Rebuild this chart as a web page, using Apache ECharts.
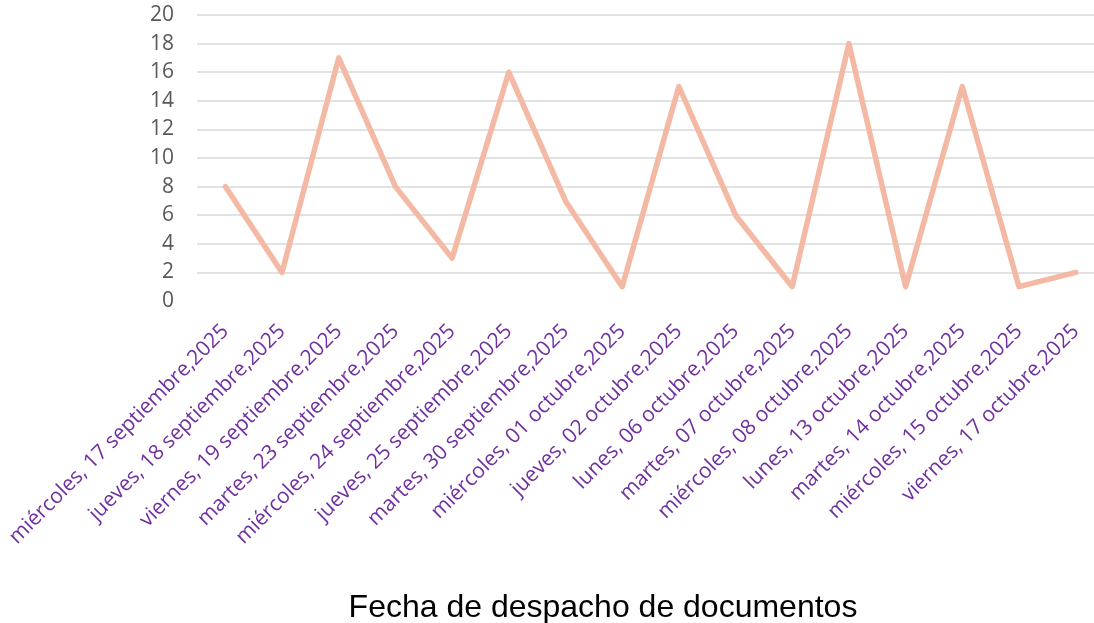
<!DOCTYPE html>
<html>
<head>
<meta charset="utf-8">
<script src="https://cdn.jsdelivr.net/npm/echarts@6/dist/echarts.min.js"></script>
<style>
    html, body { margin: 0; padding: 0; background: #ffffff; }
    #chart { width: 1094px; height: 623px; }
</style>
</head>
<body>
<div id="chart"></div>
<script>
// fechas de despacho
var categories = [
    "miércoles, 17 septiembre,2025",
    "jueves, 18 septiembre,2025",
    "viernes, 19 septiembre,2025",
    "martes, 23 septiembre,2025",
    "miércoles, 24 septiembre,2025",
    "jueves, 25 septiembre,2025",
    "martes, 30 septiembre,2025",
    "miércoles, 01 octubre,2025",
    "jueves, 02 octubre,2025",
    "lunes, 06 octubre,2025",
    "martes, 07 octubre,2025",
    "miércoles, 08 octubre,2025",
    "lunes, 13 octubre,2025",
    "martes, 14 octubre,2025",
    "miércoles, 15 octubre,2025",
    "viernes, 17 octubre,2025"
];
// documentos despachados por día
var documentos = [8, 2, 17, 8, 3, 16, 7, 1, 15, 6, 1, 18, 1, 15, 1, 2];
var yMin = 0;
var yMax = 20;
var yStep = 2;
var axisTitle = "Fecha de despacho de documentos";

var myChart = echarts.init(document.getElementById("chart"));

// la primera línea (0) no se dibuja
var gridColors = [];
for (var i = 0; i <= (yMax - yMin) / yStep; i++) {
    gridColors.push(i === 0 ? "rgba(0,0,0,0)" : "#d9d9d9");
}

var option = {
    animation: false,
    backgroundColor: "#ffffff",
    title: {
        text: axisTitle,
        left: 598,
        top: 587,
        textAlign: "center",
        textStyle: {
            fontFamily: "Liberation Sans",
            fontSize: 32,
            fontWeight: "normal",
            color: "#000000"
        }
    },
    grid: {
        left: 197,
        right: -10,
        top: 15,
        bottom: 322,
        outerBoundsMode: "none"
    },
    xAxis: {
        type: "category",
        data: categories,
        boundaryGap: true,
        axisLine: { show: false },
        axisTick: { show: false },
        axisLabel: {
            interval: 0,
            rotate: 45,
            margin: 27,
            color: "#7030a0",
            fontFamily: "Open Sans",
            fontSize: 21
        }
    },
    yAxis: {
        type: "value",
        min: yMin,
        max: yMax,
        interval: yStep,
        axisLine: { show: false },
        axisTick: { show: false },
        axisLabel: {
            margin: 23,
            color: "#595959",
            fontFamily: "Open Sans",
            fontSize: 21
        },
        splitLine: {
            show: true,
            lineStyle: { color: gridColors, width: 1.5 }
        }
    },
    series: [
        {
            type: "line",
            data: documentos,
            showSymbol: false,
            symbol: "none",
            lineStyle: {
                color: "#f4b9a4",
                width: 5.5,
                cap: "round",
                join: "round"
            }
        }
    ]
};
myChart.setOption(option);
</script>
</body>
</html>
